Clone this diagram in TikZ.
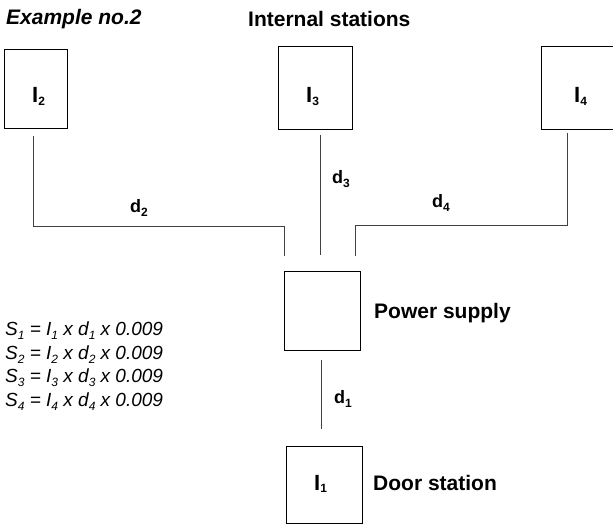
\documentclass[tikz,border=0pt]{standalone}
\usepackage{fontspec}
\setmainfont{Liberation Sans}
\newcommand\sublab[3]{#1\raisebox{-#3}{\fontsize{12}{12}\selectfont #2}}
\begin{document}
\begin{tikzpicture}[x=1pt,y=-1pt,
  stn/.style={draw,line width=0.9pt},
  wire/.style={draw,line width=0.9pt,black!75},
  head/.style={anchor=base west,inner sep=0pt,font=\fontsize{21}{21}\selectfont\bfseries},
  boxlab/.style={anchor=base west,inner sep=0pt,font=\fontsize{22}{22}\selectfont\bfseries},
  dlab/.style={anchor=base west,inner sep=0pt,font=\fontsize{18}{18}\selectfont\bfseries},
  form/.style={anchor=base west,inner sep=0pt,align=left,font=\fontsize{19}{23.4}\selectfont\itshape}]
\useasboundingbox (0,0) rectangle (613,524);

% stations and power supply
\draw[stn] (4,49) rectangle (67,128);
\draw[stn] (278,46) rectangle (352,129);
\draw[stn] (541,46) rectangle (616,129);
\draw[stn] (284,271) rectangle (360,350);
\draw[stn] (286,446) rectangle (362,523);

% station names inside the boxes
\node[boxlab] (l2) at (32,103) {\sublab{I}{2}{2pt}};
\node[boxlab] (l3) at (306,103) {\sublab{I}{3}{2pt}};
\node[boxlab] (l4) at (574,103) {\sublab{I}{4}{2pt}};
\node[boxlab] (l1) at (314,490) {\sublab{I}{1}{2pt}};

% cable runs
\coordinate (a2) at (33,136);
\coordinate (b2) at (33,226);
\coordinate (c2) at (284,226);
\coordinate (e2) at (284,256);
\draw[wire] (a2) -- (b2) -- (c2) -- (e2);
\coordinate (a3) at (320,135);
\coordinate (e3) at (320,255);
\draw[wire] (a3) -- (e3);
\coordinate (a4) at (567,133);
\coordinate (b4) at (567,225);
\coordinate (c4) at (355,225);
\coordinate (e4) at (355,256);
\draw[wire] (a4) -- (b4) -- (c4) -- (e4);
\coordinate (a1) at (321,360);
\coordinate (e1) at (321,429);
\draw[wire] (a1) -- (e1);

% cable lengths
\node[dlab] (d2) at (130,212.5) {\sublab{d}{2}{4pt}};
\node[dlab] (d3) at (332,183.5) {\sublab{d}{3}{4pt}};
\node[dlab] (d4) at (432,207) {\sublab{d}{4}{4pt}};
\node[dlab] (d1) at (334,403) {\sublab{d}{1}{4pt}};

% headings and captions
\node[head] (ex) at (6,25) {\itshape Example no.2};
\node[head] (int) at (248,26.5) {Internal stations};
\node[head] (ps) at (374,318) {Power supply};
\node[head] (ds) at (373,490) {Door station};

% cross-section formulas (node is placed by the baseline of its last line)
\newcommand\fsub[1]{\raisebox{-4pt}{\fontsize{12}{12}\selectfont\itshape #1}}
\node[form] (f) at (5,406) {S\fsub{1} = I\fsub{1} x d\fsub{1} x 0.009\\
S\fsub{2} = I\fsub{2} x d\fsub{2} x 0.009\\
S\fsub{3} = I\fsub{3} x d\fsub{3} x 0.009\\
S\fsub{4} = I\fsub{4} x d\fsub{4} x 0.009};
\end{tikzpicture}
\end{document}
